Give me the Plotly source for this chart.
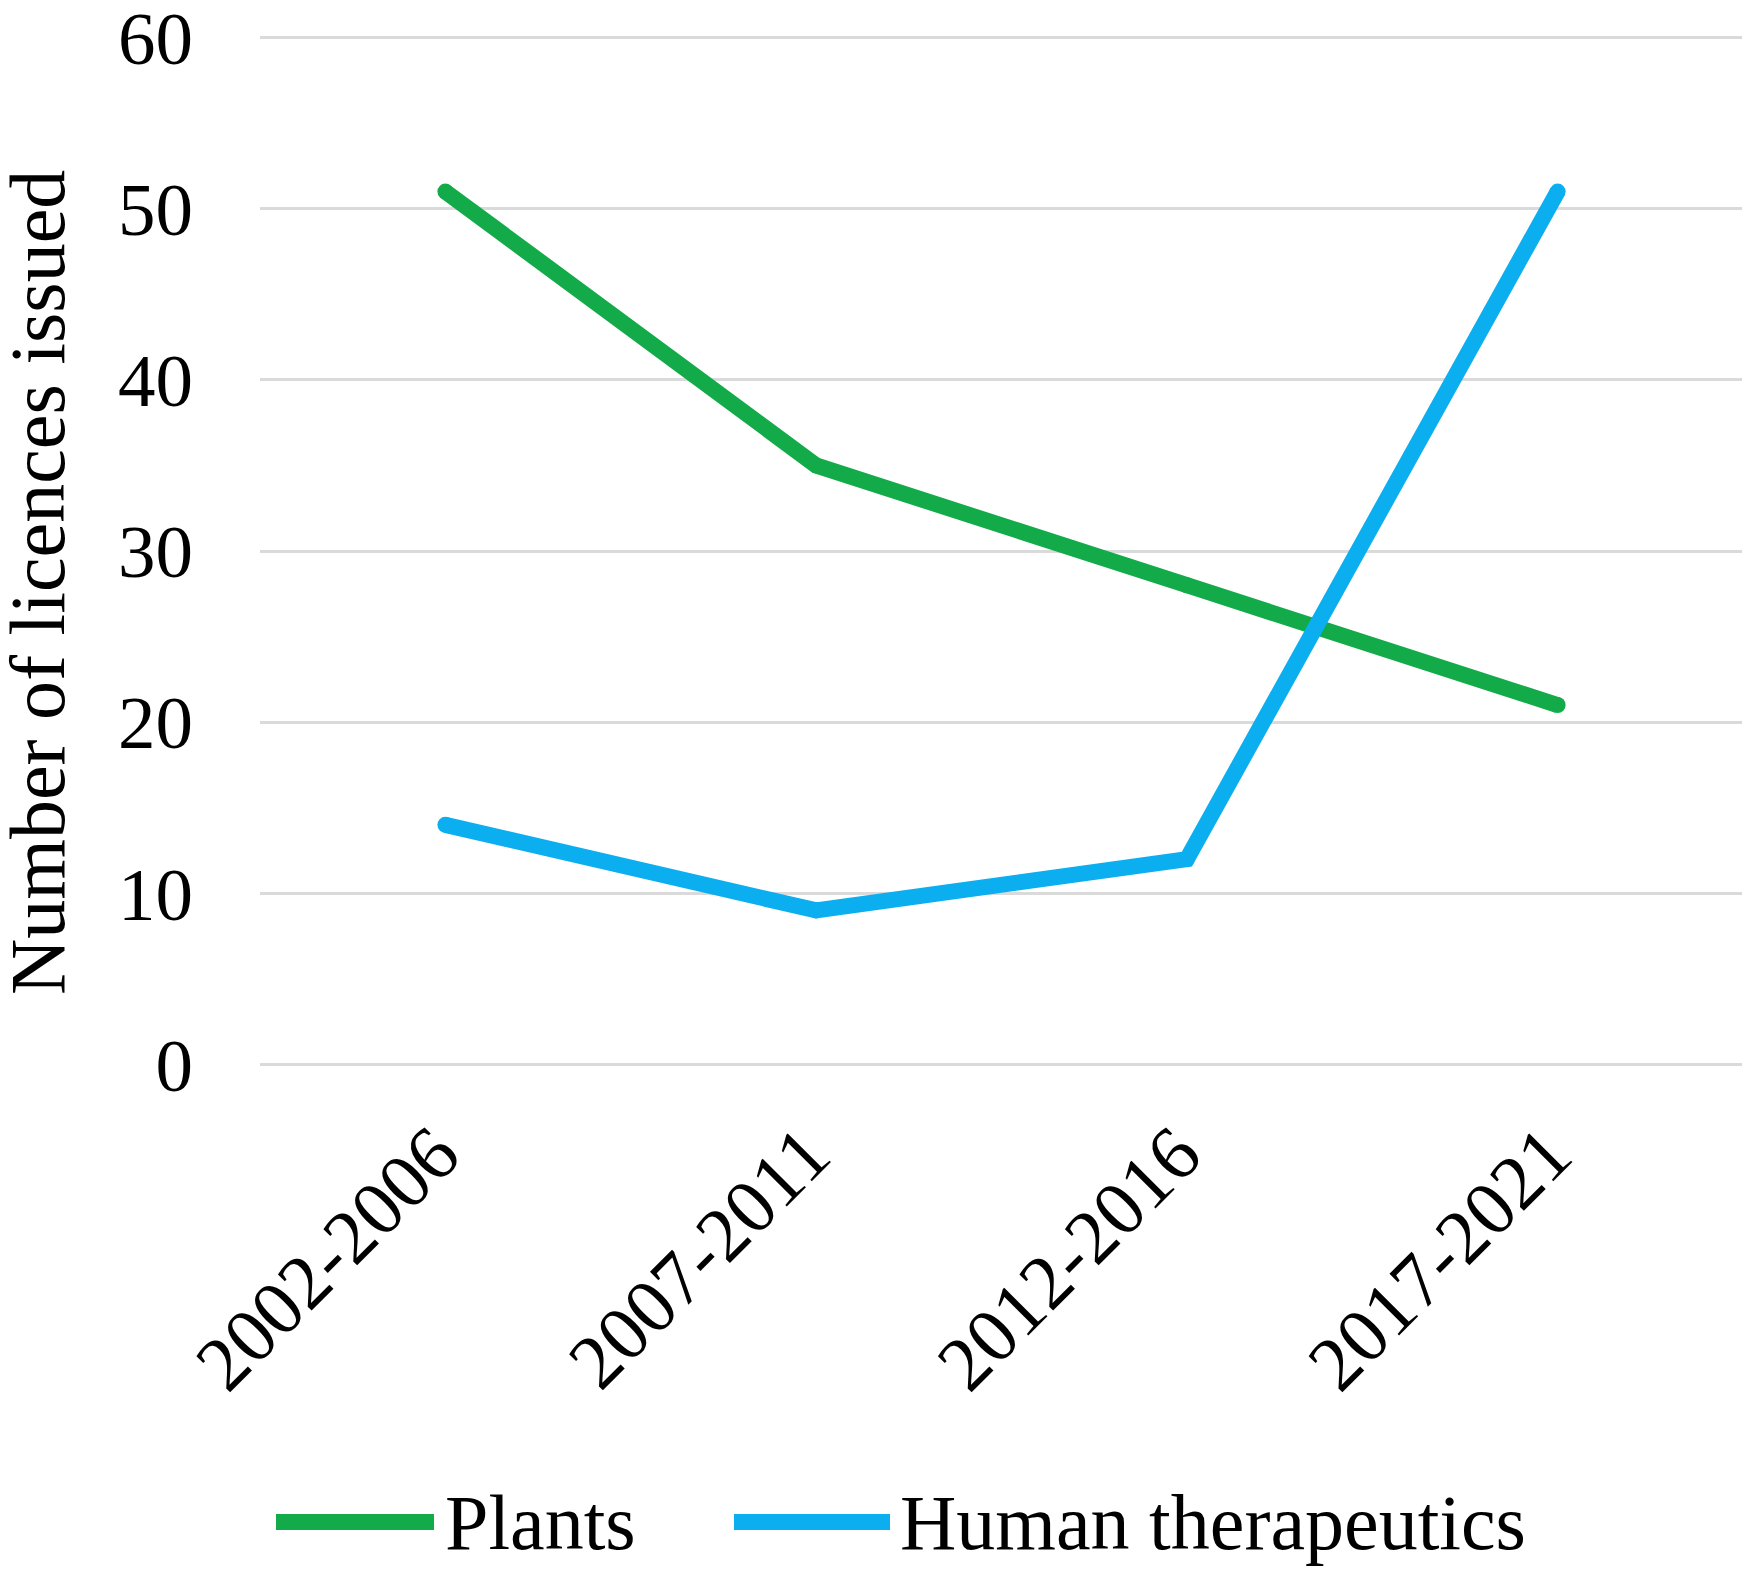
import plotly.graph_objects as go

periods = ["2002-2006", "2007-2011", "2012-2016", "2017-2021"]
plants = [51, 35, 28, 21]
human_therapeutics = [14, 9, 12, 51]
y_ticks = [0, 10, 20, 30, 40, 50, 60]

GREEN = "#13AB4A"
BLUE = "#0BAEEF"
FONT = "Liberation Serif"

# page body margin of the browser (8 px) is compensated below
OFF = 8
W0, H0 = 1750, 1587
W, H = W0 - OFF, H0 - OFF

# reference geometry (in reference pixels): x 260..1743, value 60 at y=38, value 0 at y=1064
PAD = 0.5
UNIT = (1064 - 38) / 60.0
L = 260 - OFF
R = W0 - 1743
T = int(round(38 - PAD * UNIT)) - OFF
B = int(round(H0 - (1064 + PAD * UNIT)))
PW = W - L - R
PH = H - T - B


def px_x(px):
    return (px - OFF - L) / PW


def px_y(py):
    return (H - B - (py - OFF)) / PH


fig = go.Figure()
fig.add_trace(go.Scatter(
    x=periods, y=plants, name="Plants", mode="lines+markers",
    line=dict(color=GREEN, width=16), marker=dict(color=GREEN, size=16),
    showlegend=False))
fig.add_trace(go.Scatter(
    x=periods, y=human_therapeutics, name="Human therapeutics", mode="lines+markers",
    line=dict(color=BLUE, width=16), marker=dict(color=BLUE, size=16),
    showlegend=False))

# custom legend (long line samples)
ly = px_y(1522)
for (x0, x1, col, label, tx) in [
    (276, 434, GREEN, "Plants", 443),
    (734, 890, BLUE, "Human therapeutics", 898),
]:
    fig.add_shape(type="line", xref="paper", yref="paper",
                  x0=px_x(x0), x1=px_x(x1), y0=ly, y1=ly,
                  line=dict(color=col, width=16))
    fig.add_annotation(xref="paper", yref="paper", x=px_x(tx), y=ly,
                       xanchor="left", yanchor="middle", showarrow=False,
                       text=label, font=dict(family=FONT, size=78, color="#000000"))

fig.add_annotation(xref="paper", yref="paper", x=px_x(37), y=px_y(583),
                   xanchor="center", yanchor="middle", showarrow=False,
                   textangle=-90, text="Number of licences issued",
                   font=dict(family=FONT, size=78, color="#000000"))

fig.update_layout(
    width=W, height=H,
    margin=dict(l=L, r=R, t=T, b=B, autoexpand=False),
    paper_bgcolor="white", plot_bgcolor="white",
    font=dict(family=FONT, size=76, color="#000000"),
    xaxis=dict(type="category", range=[-0.5, 3.5], tickangle=-45, automargin=False,
               showgrid=False, showline=False, zeroline=False,
               ticks="", ticklabelstandoff=19, ticklabelshift=-9,
               tickfont=dict(family=FONT, size=77, color="#000000")),
    yaxis=dict(range=[-PAD, 60 + PAD], tickvals=y_ticks, showgrid=True, automargin=False,
               gridcolor="#DADADA", gridwidth=3, zeroline=False, showline=False,
               ticks="", ticklabelstandoff=66, ticklabeloverflow="allow",
               tickfont=dict(family=FONT, size=75, color="#000000")),
)

fig.write_html("out.html")
